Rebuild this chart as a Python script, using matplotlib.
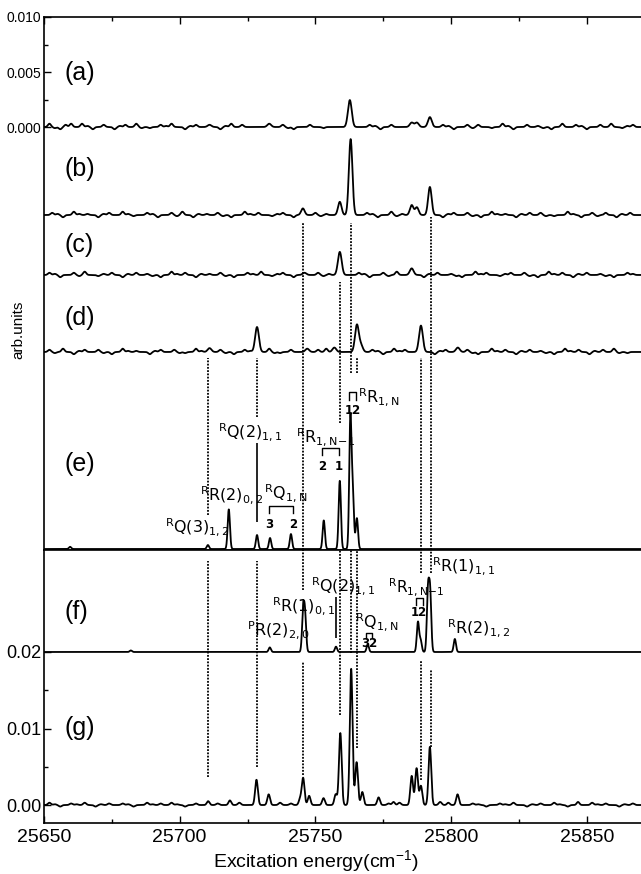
import numpy as np
import matplotlib
matplotlib.use("Agg")
import matplotlib.pyplot as plt
from matplotlib.ticker import MultipleLocator, FixedLocator

plt.rcParams['font.family'] = ['Liberation Sans', 'DejaVu Sans']
plt.rcParams['mathtext.fontset'] = 'dejavusans'

# ---------------- data ----------------
xlim = (25650, 25870)

# trace offsets
off_top = {'a': 0.0, 'b': -0.0080, 'c': -0.01345, 'd': -0.02045, 'e': -0.03836}
off_bot = {'f': 0.0200, 'g': 0.0}

# peaks: centre (cm-1), height
a_pos = [25762.7, 25792.2, 25785.5, 25787.4, 25733.0, 25711.0]
a_hgt = [0.00245, 0.0009, 0.0004, 0.0004, 0.0003, 0.0002]
b_pos = [25763.0, 25759.0, 25792.2, 25785.5, 25787.4, 25745.4]
b_hgt = [0.0069, 0.0012, 0.00255, 0.0009, 0.0007, 0.0006]
c_pos = [25759.0, 25785.5, 25746.0]
c_hgt = [0.0021, 0.0006, 0.0002]
d_pos = [25728.5, 25765.3, 25788.9, 25711.0, 25747.0, 25757.0, 25766.8, 25802.5]
d_hgt = [0.00227, 0.00245, 0.0024, 0.00035, 0.0003, 0.0004, 0.0006, 0.0004]
e_pos = [25659.6, 25710.4, 25718.1, 25728.5, 25733.3, 25741.0, 25753.1, 25759.0,
         25762.9, 25763.8, 25765.3]
e_hgt = [0.0002, 0.00036, 0.0036, 0.00127, 0.0010, 0.00136, 0.0026, 0.0062,
         0.0118, 0.0050, 0.0028]
f_pos = [25682.0, 25733.2, 25745.5, 25746.2, 25757.6, 25769.3, 25787.8, 25788.8,
         25791.5, 25792.3, 25801.4]
f_hgt = [0.0002, 0.0006, 0.0050, 0.0045, 0.0007, 0.0010, 0.0039, 0.0015,
         0.0078, 0.0075, 0.0017]
g_pos = [25710.5, 25718.5, 25728.3, 25732.8, 25744.4, 25745.5, 25747.7, 25753.0,
         25757.5, 25759.2, 25763.2, 25765.2, 25767.3, 25773.3, 25778.8, 25785.5,
         25787.3, 25788.9, 25792.2, 25799.0, 25802.4, 25846.8]
g_hgt = [0.0005, 0.0006, 0.0033, 0.0014, 0.0008, 0.0035, 0.0012, 0.0009,
         0.0014, 0.0094, 0.0178, 0.0056, 0.0017, 0.0010, 0.0004, 0.0038,
         0.0048, 0.0025, 0.0076, 0.0003, 0.0014, 0.0004]

# baseline ripple (estimated small wiggles)
a_rip_pos = [25652, 25654, 25656, 25658, 25660, 25664, 25666, 25668, 25672, 25676, 25678,
             25680, 25684, 25686, 25689, 25693, 25695, 25697, 25702, 25704, 25706, 25715,
             25717, 25719, 25723, 25738, 25740, 25742, 25748, 25753, 25770, 25772, 25774,
             25778, 25797, 25799, 25801, 25806, 25808, 25810, 25815, 25819, 25821, 25823,
             25828, 25832, 25834, 25837, 25841, 25846, 25848, 25850, 25855, 25859, 25863,
             25865, 25867]
a_rip_amp = [0.0003, -0.0001, -0.0002, 0.0002, 0.0003, 0.0003, 0.0001, -0.0002, 0.0002,
             -0.0002, 0.0001, 0.0002, 0.0003, -0.0001, -0.0001, 0.0002, 0.0001, 0.0003,
             -0.0002, 0.0001, 0.0002, -0.0002, 0.0001, 0.0003, 0.0002, 0.0002, -0.0001,
             -0.0002, 0.0002, -0.0001, 0.0002, 0.0001, -0.0002, 0.0002, 0.0002, 0.0001,
             -0.0002, 0.0002, -0.0001, 0.0002, -0.0001, 0.0003, 0.0001, -0.0002, 0.0002,
             0.0001, -0.0001, -0.0002, 0.0003, 0.0002, 0.0001, -0.0002, 0.0002, 0.0003,
             -0.0001, 0.0001, 0.0002]
b_rip_pos = [25653, 25655, 25657, 25661, 25663, 25666, 25670, 25672, 25674, 25679, 25681,
             25683, 25688, 25690, 25692, 25697, 25699, 25701, 25705, 25707, 25710, 25714,
             25716, 25719, 25724, 25726, 25729, 25734, 25736, 25738, 25742, 25750, 25752,
             25754, 25769, 25771, 25773, 25778, 25780, 25782, 25797, 25799, 25801, 25806,
             25808, 25811, 25815, 25817, 25820, 25824, 25826, 25829, 25833, 25835, 25838,
             25843, 25845, 25848, 25852, 25854, 25857, 25861, 25863, 25866]
b_rip_amp = [0.0002, 0.0001, -0.0002, 0.0003, 0.0001, 0.0001, -0.0002, 0.0001, 0.0002,
             0.0003, 0.0001, -0.0001, 0.0002, 0.0001, -0.0002, 0.0002, -0.0001, 0.0003,
             -0.0002, 0.0001, 0.0001, 0.0002, -0.0001, -0.0002, 0.0003, 0.0001, 0.0002,
             -0.0001, 0.0001, 0.0002, -0.0002, 0.0002, -0.0001, 0.0001, 0.0002, 0.0001,
             -0.0002, 0.0003, -0.0001, 0.0001, -0.0002, 0.0001, 0.0002, 0.0002, -0.0001,
             -0.0002, 0.0003, 0.0001, 0.0001, -0.0002, 0.0001, 0.0002, 0.0002, -0.0001,
             -0.0001, 0.0003, 0.0001, -0.0002, 0.0002, -0.0001, 0.0002, -0.0002, 0.0001,
             0.0002]
c_rip_pos = [25652, 25654, 25656, 25661, 25663, 25665, 25670, 25672, 25675, 25679, 25681,
             25684, 25688, 25690, 25693, 25697, 25699, 25702, 25706, 25708, 25711, 25715,
             25717, 25720, 25725, 25727, 25730, 25734, 25736, 25738, 25742, 25751, 25753,
             25755, 25766, 25768, 25770, 25775, 25777, 25780, 25790, 25792, 25795, 25800,
             25802, 25804, 25809, 25811, 25813, 25818, 25820, 25822, 25827, 25829, 25832,
             25836, 25838, 25841, 25845, 25847, 25850, 25855, 25857, 25860, 25865, 25867]
c_rip_amp = [0.0002, 0.0001, -0.0002, 0.0002, -0.0001, 0.0003, -0.0001, 0.0001, 0.0002,
             -0.0002, 0.0001, 0.0002, 0.0001, -0.0001, -0.0002, 0.0003, 0.0001, 0.0002,
             -0.0002, 0.0001, 0.0001, 0.0002, -0.0001, -0.0002, 0.0002, 0.0001, 0.0003,
             -0.0001, 0.0001, 0.0002, -0.0002, 0.0002, -0.0001, 0.0001, 0.0002, 0.0001,
             -0.0002, 0.0002, -0.0001, 0.0003, -0.0002, 0.0001, 0.0002, 0.0001, -0.0001,
             -0.0002, 0.0003, 0.0001, 0.0002, -0.0001, 0.0001, 0.0002, 0.0002, -0.0001,
             -0.0002, 0.0003, 0.0001, 0.0002, -0.0002, 0.0001, 0.0002, 0.0001, -0.0001,
             -0.0002, 0.0002, 0.0001]
d_rip_pos = [25652, 25654, 25657, 25661, 25663, 25665, 25670, 25672, 25675, 25679, 25681,
             25684, 25689, 25691, 25693, 25698, 25700, 25702, 25706, 25708, 25715, 25717,
             25720, 25724, 25726, 25733, 25735, 25737, 25741, 25751, 25754, 25771, 25773,
             25775, 25779, 25781, 25783, 25794, 25796, 25798, 25806, 25808, 25810, 25815,
             25817, 25820, 25824, 25826, 25829, 25833, 25835, 25838, 25842, 25844, 25847,
             25851, 25853, 25856, 25860, 25862, 25865]
d_rip_amp = [0.0002, -0.0001, 0.0003, -0.0002, 0.0001, 0.0002, 0.0002, -0.0001, -0.0002,
             0.0003, 0.0001, 0.0001, -0.0002, 0.0001, 0.0002, 0.0002, -0.0001, -0.0001,
             0.0003, 0.0001, 0.0002, -0.0001, -0.0002, 0.0002, 0.0001, 0.0003, -0.0001,
             -0.0001, 0.0002, 0.0002, 0.0003, 0.0002, 0.0001, -0.0002, 0.0003, 0.0001,
             0.0002, -0.0002, 0.0001, 0.0002, 0.0002, -0.0001, -0.0002, 0.0003, 0.0001,
             0.0002, -0.0002, 0.0001, 0.0002, 0.0001, -0.0001, -0.0002, 0.0003, 0.0001,
             0.0002, -0.0002, 0.0001, 0.0002, 0.0003, -0.0001, -0.0001]
g_rip_pos = [25652, 25654, 25656, 25660, 25662, 25665, 25669, 25671, 25674, 25679, 25681,
             25683, 25688, 25690, 25693, 25697, 25699, 25702, 25706, 25714, 25722, 25737,
             25741, 25777, 25781, 25796, 25808, 25810, 25813, 25818, 25820, 25823, 25828,
             25830, 25833, 25838, 25840, 25843, 25852, 25854, 25857, 25862, 25864, 25867]
g_rip_amp = [0.0003, 0.0001, -0.0002, 0.0002, 0.0001, 0.0003, -0.0002, 0.0001, 0.0002,
             0.0002, 0.0001, -0.0002, 0.0003, 0.0001, 0.0002, 0.0003, 0.0001, -0.0002,
             0.0002, 0.0002, 0.0003, 0.0003, 0.0002, 0.0002, 0.0003, 0.0004, 0.0002,
             0.0001, -0.0002, 0.0002, 0.0001, 0.0003, -0.0002, 0.0001, 0.0002, 0.0003,
             0.0001, -0.0002, 0.0003, 0.0001, 0.0002, -0.0002, 0.0001, 0.0002]

panel_labels = ['(a)', '(b)', '(c)', '(d)', '(e)', '(f)', '(g)']
panel_label_y = [0.0049, -0.0038, -0.0107, -0.0174, -0.0306, 0.0252, 0.0101]

# dotted guide lines: x, ymin, ymax (top axes and bottom axes)
dot_top_x = [25710.5, 25728.5, 25745.5, 25759.0, 25763.0, 25765.5, 25789.0, 25792.5]
dot_top_y0 = [-0.03527, -0.02636, -0.03845, -0.02691, -0.02236, -0.02236, -0.03845, -0.03845]
dot_top_y1 = [-0.0210, -0.0210, -0.00873, -0.01409, -0.00873, -0.0209, -0.0210, -0.00818]
dot_bot_x = [25710.5, 25728.5, 25745.5, 25745.5, 25759.0, 25763.0, 25765.5,
             25789.0, 25789.0, 25792.5, 25792.5]
dot_bot_y0 = [0.00366, 0.00497, 0.0281, 0.00392, 0.01176, 0.01987, 0.00745,
              0.0303, 0.00327, 0.0303, 0.00758]
dot_bot_y1 = [0.0319, 0.0319, 0.0334, 0.0187, 0.0334, 0.0334, 0.0334,
              0.0334, 0.01895, 0.0334, 0.01765]

# ---------------- helpers ----------------
x = np.arange(xlim[0], xlim[1] + 0.01, 0.05)


def spectrum(pos, hgt, sig, rpos=(), ramp=(), rsig=0.55):
    y = np.zeros_like(x)
    for p, h in zip(pos, hgt):
        y += h * np.exp(-0.5 * ((x - p) / sig) ** 2)
    for p, h in zip(rpos, ramp):
        y += h * np.exp(-0.5 * ((x - p) / rsig) ** 2)
    return y


W, H = 641, 874
fig = plt.figure(figsize=(W / 100, H / 100), dpi=100)
L = 44 / W
AW = (W - 44) / W
ax1 = fig.add_axes([L, (H - 550) / H, AW, (550 - 17) / H])
ax2 = fig.add_axes([L, (H - 823) / H, AW, (823 - 550) / H])

lw = 1.3
ax1.plot(x, off_top['a'] + spectrum(a_pos, a_hgt, 0.7, a_rip_pos, a_rip_amp), color='black', lw=lw)
ax1.plot(x, off_top['b'] + spectrum(b_pos, b_hgt, 0.65, b_rip_pos, b_rip_amp), color='black', lw=lw)
ax1.plot(x, off_top['c'] + spectrum(c_pos, c_hgt, 0.7, c_rip_pos, c_rip_amp), color='black', lw=lw)
ax1.plot(x, off_top['d'] + spectrum(d_pos, d_hgt, 0.7, d_rip_pos, d_rip_amp), color='black', lw=lw)
ax1.plot(x, off_top['e'] + spectrum(e_pos, e_hgt, 0.42), color='black', lw=lw)
ax2.plot(x, off_bot['f'] + spectrum(f_pos, f_hgt, 0.42), color='black', lw=lw)
ax2.plot(x, off_bot['g'] + spectrum(g_pos, g_hgt, 0.5, g_rip_pos, g_rip_amp), color='black', lw=lw)

dot_style = dict(color='black', lw=1.3, linestyles=[(0, (1.0, 0.8))])
ax1.vlines(dot_top_x, dot_top_y0, dot_top_y1, **dot_style)
ax2.vlines(dot_bot_x, dot_bot_y0, dot_bot_y1, **dot_style)

# axes formatting
for ax in (ax1, ax2):
    ax.set_xlim(*xlim)
    ax.spines['right'].set_visible(False)
    for s in ax.spines.values():
        s.set_linewidth(1.2)
    ax.xaxis.set_major_locator(MultipleLocator(50))
    ax.xaxis.set_minor_locator(MultipleLocator(25))
    ax.tick_params(which='both', direction='in', right=False)
    ax.tick_params(which='major', length=5, width=1)
    ax.tick_params(which='minor', length=3, width=1)

ax1.set_ylim(-0.03845, 0.010)
ax1.yaxis.set_major_locator(FixedLocator([0.0, 0.005, 0.010]))
ax1.yaxis.set_minor_locator(FixedLocator([0.0025, 0.0075]))
ax1.set_yticklabels(['0.000', '0.005', '0.010'])
ax1.tick_params(axis='y', labelsize=10, pad=2)
ax1.tick_params(axis='x', which='both', top=True, bottom=False, labelbottom=False)

ax2.set_ylim(-0.00235, 0.03333)
ax2.yaxis.set_major_locator(FixedLocator([0.0, 0.01, 0.02]))
ax2.yaxis.set_minor_locator(FixedLocator([0.005, 0.015]))
ax2.set_yticklabels(['0.00', '0.01', '0.02'])
ax2.tick_params(axis='y', labelsize=13, pad=2)
ax2.tick_params(axis='x', which='both', top=False, bottom=True, labelsize=14, pad=4)

# panel labels
for i, (lab, yy) in enumerate(zip(panel_labels, panel_label_y)):
    ax = ax1 if i < 5 else ax2
    ax.text(25657.5, yy, lab, fontsize=18, ha='left', va='center')

# annotations (e)
afs = 11.5
ann = dict(fontsize=afs, family='DejaVu Sans', ha='left', va='center')
ax1.text(25694.6, -0.03636, r'$^{\mathrm{R}}$Q(3)$_{\mathrm{1,2}}$', **ann)
ax1.text(25707.5, -0.03345, r'$^{\mathrm{R}}$R(2)$_{\mathrm{0,2}}$', **ann)
ax1.text(25714.3, -0.02773, r'$^{\mathrm{R}}$Q(2)$_{\mathrm{1,1}}$', **ann)
ax1.vlines([25728.5], [-0.0359], [-0.02873], color='black', lw=1.2)
ax1.text(25731.2, -0.03330, r'$^{\mathrm{R}}$Q$_{\mathrm{1,N}}$', **ann)
ax1.plot([25732.9, 25732.9, 25741.7, 25741.7], [-0.03509, -0.03445, -0.03445, -0.03509],
         color='black', lw=1.0)
sfs = dict(fontsize=8.5, family='DejaVu Sans', weight='bold', ha='center', va='center')
ax1.text(25732.9, -0.0361, '3', **sfs)
ax1.text(25741.7, -0.0361, '2', **sfs)
ax1.text(25743.0, -0.02818, r'$^{\mathrm{R}}$R$_{\mathrm{1,N\!-\!1}}$', **ann)
ax1.plot([25752.4, 25752.4, 25758.7, 25758.7], [-0.02982, -0.02918, -0.02918, -0.02982],
         color='black', lw=1.0)
ax1.text(25752.4, -0.03082, '2', **sfs)
ax1.text(25758.7, -0.03082, '1', **sfs)
ax1.text(25765.6, -0.02455, r'$^{\mathrm{R}}$R$_{\mathrm{1,N}}$', **ann)
ax1.plot([25762.3, 25762.3, 25764.9, 25764.9], [-0.02482, -0.02409, -0.02409, -0.02482],
         color='black', lw=1.0)
ax1.text(25763.9, -0.02580, '12', **sfs)

# annotations (f)
ax2.text(25724.8, 0.02288, r'$^{\mathrm{P}}$R(2)$_{\mathrm{2,0}}$', **ann)
ax2.text(25734.0, 0.02600, r'$^{\mathrm{R}}$R(1)$_{\mathrm{0,1}}$', **ann)
ax2.text(25748.3, 0.02860, r'$^{\mathrm{R}}$Q(2)$_{\mathrm{1,1}}$', **ann)
ax2.vlines([25757.5], [0.02183], [0.02719], color='black', lw=1.2)
ax2.text(25764.5, 0.02392, r'$^{\mathrm{R}}$Q$_{\mathrm{1,N}}$', **ann)
ax2.plot([25768.6, 25768.6, 25770.8, 25770.8], [0.02183, 0.02248, 0.02248, 0.02183],
         color='black', lw=1.0)
ax2.text(25769.8, 0.02105, '32', **sfs)
ax2.text(25776.8, 0.02845, r'$^{\mathrm{R}}$R$_{\mathrm{1,N\!-\!1}}$', fontsize=11,
         family='DejaVu Sans', ha='left', va='center')
ax2.plot([25787.0, 25787.0, 25789.6, 25789.6], [0.02614, 0.02706, 0.02706, 0.02614],
         color='black', lw=1.0)
ax2.text(25788.3, 0.0251, '12', **sfs)
ax2.text(25793.0, 0.0313, r'$^{\mathrm{R}}$R(1)$_{\mathrm{1,1}}$', **ann)
ax2.text(25798.4, 0.02314, r'$^{\mathrm{R}}$R(2)$_{\mathrm{1,2}}$', **ann)

# axis titles
fig.text(316 / W, 1 - 862 / H, r'Excitation energy(cm$^{\mathregular{-1}}$)', fontsize=14,
         ha='center', va='center')
fig.text(18 / W, 1 - 330 / H, 'arb.units', fontsize=11, rotation=90, ha='center', va='center')

fig.savefig('out.png', dpi=100)
